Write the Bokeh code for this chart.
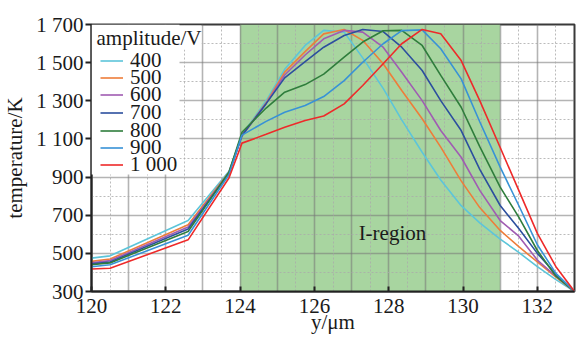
from bokeh.plotting import figure
from bokeh.models import FixedTicker, Grid, BoxAnnotation, Legend, LegendItem, Label, Range1d
from bokeh.embed import file_html
from bokeh.resources import INLINE
from bokeh.core.properties import value

# ---- data ----
y_um = [120, 120.5, 122.6, 123.7, 124.05, 124.7, 125.2, 125.75, 126.25, 126.8, 127.3,
        127.85, 128.35, 128.9, 129.4, 129.95, 130.45, 131.0, 131.5, 132.0, 132.5, 133.0]
T400 = [475, 487, 672, 930, 1122, 1300, 1465, 1590, 1669, 1660, 1525, 1365, 1200, 1030, 885, 750, 660, 575, 505, 430, 362, 300]
T500 = [458, 470, 650, 925, 1118, 1290, 1450, 1558, 1651, 1674, 1617, 1494, 1354, 1206, 1057, 880, 740, 620, 535, 455, 375, 300]
T600 = [450, 462, 638, 922, 1115, 1285, 1435, 1540, 1625, 1669, 1660, 1581, 1450, 1301, 1144, 1004, 830, 672, 590, 465, 380, 300]
T700 = [445, 455, 628, 920, 1118, 1285, 1420, 1505, 1581, 1642, 1674, 1663, 1581, 1459, 1301, 1144, 940, 751, 630, 500, 390, 300]
T800 = [440, 450, 615, 925, 1135, 1262, 1345, 1385, 1440, 1529, 1608, 1667, 1669, 1590, 1433, 1266, 1060, 847, 690, 515, 380, 300]
T900 = [430, 440, 595, 912, 1120, 1192, 1240, 1275, 1322, 1406, 1502, 1599, 1668, 1672, 1573, 1415, 1190, 952, 751, 545, 395, 300]
T1000 = [418, 422, 571, 895, 1078, 1124, 1161, 1197, 1220, 1284, 1380, 1494, 1599, 1674, 1651, 1511, 1301, 1055, 830, 605, 430, 300]

amplitudes = ["400", "500", "600", "700", "800", "900", "1 000"]
series = [T400, T500, T600, T700, T800, T900, T1000]
colors = ["#5cc5da", "#ee7d3a", "#a05cb2", "#2c4f9e", "#2f7d3c", "#3892d6", "#ee2a2a"]
legend_title = "amplitude/V"

region_start, region_end = 124, 131
region_label = "I-region"
region_label_pos = (128.1, 607)

x_ticks = [120, 122, 124, 126, 128, 130, 132]
y_ticks = [300, 500, 700, 900, 1100, 1300, 1500, 1700]
y_tick_labels = {v: (f"{v // 1000} {v % 1000:03d}" if v >= 1000 else str(v)) for v in y_ticks}

FONT = "Liberation Serif"
FS = "21px"
FRAME_H = 267  # frame height in px (338 - 24 - 47)

p = figure(width=576, height=338, output_backend="svg", toolbar_location=None,
           x_range=Range1d(120, 133), y_range=Range1d(300, 1700),
           min_border_left=85, min_border_right=2, min_border_top=24, min_border_bottom=47)
p.background_fill_color = "white"
p.border_fill_color = "white"
p.outline_line_color = "#3a3a3a"
p.outline_line_width = 2

# shaded region
p.add_layout(BoxAnnotation(left=region_start, right=region_end, fill_color="#a8d5a0",
                           fill_alpha=1.0, line_alpha=0, level="image"))

# grids
p.xgrid.ticker = FixedTicker(ticks=list(range(120, 134)))
p.ygrid.ticker = FixedTicker(ticks=list(range(300, 1701, 200)))
for g in (p.xgrid, p.ygrid):
    g.grid_line_color = "#777777"
    g.grid_line_alpha = 0.55
    g.grid_line_width = 1.6
p.add_layout(Grid(dimension=0, ticker=FixedTicker(ticks=[120.5 + i for i in range(13)]),
                  grid_line_color="#aaaaaa", grid_line_alpha=0.8, grid_line_dash="2 2", grid_line_width=1))
p.add_layout(Grid(dimension=1, ticker=FixedTicker(ticks=list(range(400, 1700, 200))),
                  grid_line_color="#aaaaaa", grid_line_alpha=0.8, grid_line_dash="2 2", grid_line_width=1))

# axes
p.xaxis.ticker = FixedTicker(ticks=x_ticks)
p.yaxis.ticker = FixedTicker(ticks=y_ticks)
p.yaxis.major_label_overrides = y_tick_labels
for ax in (p.xaxis, p.yaxis):
    ax.major_label_text_font = FONT
    ax.major_label_text_font_size = FS
    ax.major_label_text_color = "#1a1a1a"
    ax.axis_line_color = "#222222"
    ax.axis_line_width = 2
    ax.major_tick_line_color = "#222222"
    ax.major_tick_line_width = 2
    ax.minor_tick_line_color = None
    ax.axis_label_text_font = FONT
    ax.axis_label_text_font_size = FS
    ax.axis_label_text_font_style = "normal"
    ax.axis_label_text_color = "#1a1a1a"
p.xaxis.major_tick_in = 5
p.xaxis.major_tick_out = 0
p.xaxis.major_label_standoff = 7
p.xaxis.axis_label = "y/μm"
p.xaxis.axis_label_standoff = -6
p.yaxis.major_tick_in = 0
p.yaxis.major_tick_out = 6
p.yaxis.major_label_standoff = 2
p.yaxis.axis_label = "temperature/K"
p.yaxis.axis_label_standoff = 6

renderers = []
for vals, c in zip(series, colors):
    renderers.append(p.line(y_um, vals, line_color=c, line_width=1.6))

p.text(x=[region_label_pos[0]], y=[region_label_pos[1]], text=[region_label],
       text_font=value(FONT), text_font_size=FS, text_align="center",
       text_baseline="middle", text_color="#1a1a1a")

# legend: white block, title, and compact rows
p.add_layout(BoxAnnotation(left=0, right=88, top=FRAME_H, bottom=FRAME_H - 150,
                           left_units="screen", right_units="screen",
                           top_units="screen", bottom_units="screen",
                           fill_color="white", fill_alpha=1.0, line_alpha=0))
p.add_layout(Label(x=5, y=FRAME_H - 13, x_units="screen", y_units="screen", text=legend_title,
                   text_font=FONT, text_font_size=FS, text_baseline="middle", text_color="#1a1a1a",
                   background_fill_color="white", background_fill_alpha=1.0))
row_pitch = 17.5
first_row_center = 36  # px below frame top
for i, (name, r) in enumerate(zip(amplitudes, renderers)):
    center = first_row_center + row_pitch * i
    lg = Legend(items=[LegendItem(label=name, renderers=[r])],
                location=(9, round(FRAME_H - center - 12.5)))
    lg.label_text_font = FONT
    lg.label_text_font_size = FS
    lg.label_text_color = "#1a1a1a"
    lg.label_height = 25
    lg.glyph_height = 25
    lg.glyph_width = 23
    lg.label_standoff = 7
    lg.spacing = 0
    lg.padding = 0
    lg.margin = 0
    lg.border_line_color = None
    lg.background_fill_alpha = 0
    p.add_layout(lg)

open("out.html", "w").write(file_html(p, INLINE))
